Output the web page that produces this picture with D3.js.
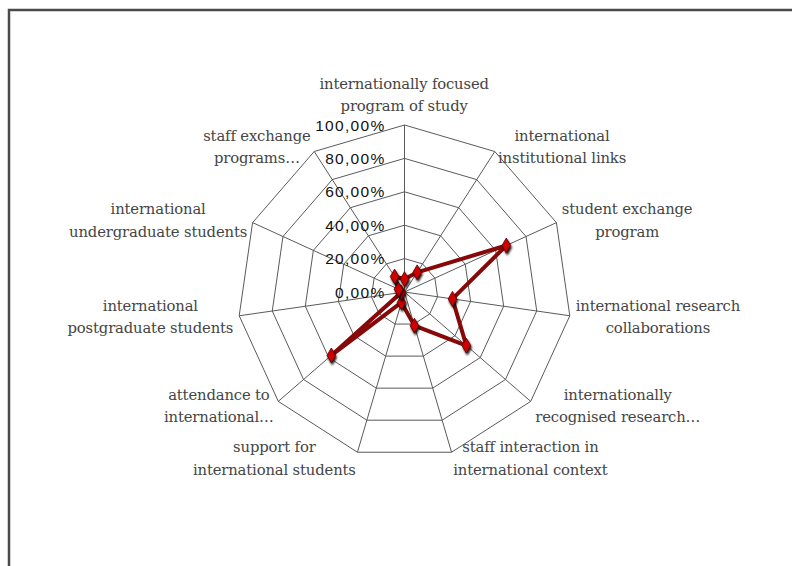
<!DOCTYPE html>
<html>
<head>
<meta charset="utf-8">
<script src="https://cdn.jsdelivr.net/npm/d3@7"></script>
<style>
  html, body { margin: 0; padding: 0; background: #fff; }
  svg { display: block; }
</style>
</head>
<body>
<svg id="chart" width="792" height="566"></svg>
<script>
const categories = [
  ["internationally focused", "program of study"],
  ["international", "institutional links"],
  ["student exchange", "program"],
  ["international research", "collaborations"],
  ["internationally", "recognised research…"],
  ["staff interaction in", "international context"],
  ["support for", "international students"],
  ["attendance to", "international…"],
  ["international", "postgraduate students"],
  ["international", "undergraduate students"],
  ["staff exchange", "programs…"]
];
const values = [0.077, 0.14, 0.67, 0.29, 0.49, 0.21, 0.065, 0.58, 0.02, 0.04, 0.11];
const tickValues = [0, 0.2, 0.4, 0.6, 0.8, 1.0];
const tickLabels = ["0,00%", "20,00%", "40,00%", "60,00%", "80,00%", "100,00%"];

const svg = d3.select("#chart");
const cx = 404.5, cy = 292, R = 167;
const n = categories.length;

// frame
svg.append("rect").attr("x", 9).attr("y", 10).attr("width", 800).attr("height", 600)
  .attr("fill", "none").attr("stroke", "#4a4a4a").attr("stroke-width", 2.5);

const r = d3.scaleLinear().domain([0, 1]).range([0, R]);
const ang = d3.scaleLinear().domain([0, n]).range([0, 2 * Math.PI]);
const pt = (i, v) => [cx + r(v) * Math.sin(ang(i)), cy - r(v) * Math.cos(ang(i))];

const g = svg.append("g");
// rings
tickValues.filter(t => t > 0).forEach(t => {
  const pts = d3.range(n).map(i => pt(i, t));
  g.append("path").attr("d", d3.line()(pts) + "Z")
    .attr("fill", "none").attr("stroke", "#5a5a5a").attr("stroke-width", 1);
});
// spokes
d3.range(n).forEach(i => {
  const [x, y] = pt(i, 1);
  g.append("line").attr("x1", cx).attr("y1", cy).attr("x2", x).attr("y2", y)
    .attr("stroke", "#5a5a5a").attr("stroke-width", 1);
});

// category labels
const pad = 6, lh = 22.5;
categories.forEach((lines, i) => {
  const a = ang(i);
  const s = Math.sin(a), c = Math.cos(a);
  const [px, py] = [cx + (R + pad) * s, cy - (R + pad) * c];
  const t = g.append("text")
    .attr("font-family", "'DejaVu Serif', serif")
    .attr("font-size", 14.8).attr("fill", "#454545").attr("text-anchor", "middle")
    .attr("letter-spacing", -0.15);
  lines.forEach((l, k) => t.append("tspan").attr("x", 0).attr("y", k * lh).text(l));
  const bb = t.node().getBBox();
  let bx, by;
  if (Math.abs(s) < 0.01) {
    bx = px; by = (c > 0) ? py - bb.height / 2 - 5 : py + bb.height / 2;
  } else {
    bx = px + Math.sign(s) * bb.width / 2; by = py;
  }
  const ccx = bb.x + bb.width / 2, ccy = bb.y + bb.height / 2;
  t.attr("transform", `translate(${bx - ccx},${by - ccy})`);
});

// tick labels
tickValues.forEach((t, k) => {
  g.append("text").attr("x", cx - 19).attr("y", cy - r(t))
    .attr("dy", "0.36em").attr("text-anchor", "end")
    .attr("font-family", "'Liberation Sans', Arial, sans-serif")
    .attr("font-size", 15.5).attr("letter-spacing", 1.3).attr("fill", "#111")
    .text(tickLabels[k]);
});

// series
const defs = svg.append("defs");
const f = defs.append("filter").attr("id", "sh").attr("x", "-60%").attr("y", "-60%").attr("width", "220%").attr("height", "220%");
f.append("feDropShadow").attr("dx", 1).attr("dy", 2).attr("stdDeviation", 1.3).attr("flood-color", "#000").attr("flood-opacity", 0.95);

const pts = values.map((v, i) => pt(i, v));
g.append("path").attr("d", d3.line()(pts) + "Z")
  .attr("fill", "none").attr("stroke", "#870808").attr("stroke-width", 4)
  .attr("stroke-linejoin", "round");

g.selectAll(".m").data(values).join("path")
  .attr("d", d3.symbol().type(d3.symbolDiamond).size(64))
  .attr("transform", (v, i) => `translate(${pt(i, v)[0]},${pt(i, v)[1]})`)
  .attr("fill", "#d00000").attr("stroke", "#500").attr("stroke-width", 0.8)
  .attr("filter", "url(#sh)");
</script>
</body>
</html>
